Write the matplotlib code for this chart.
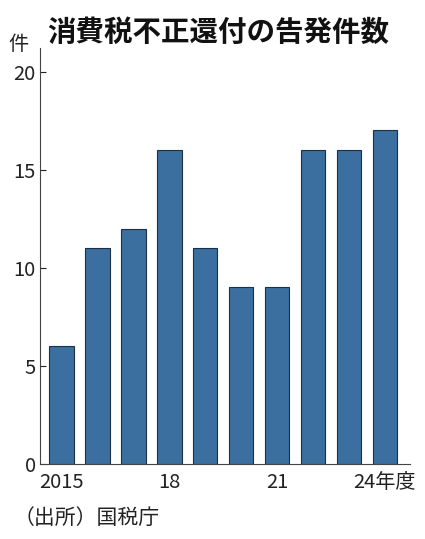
import matplotlib
matplotlib.use('Agg')
import matplotlib.pyplot as plt

plt.rcParams['font.family'] = ['Noto Sans CJK JP', 'DejaVu Sans']

# データ
years = [2015, 2016, 2017, 2018, 2019, 2020, 2021, 2022, 2023, 2024]
counts = [6, 11, 12, 16, 11, 9, 9, 16, 16, 17]
tick_years = [2015, 2018, 2021, 2024]
tick_labels = ['2015', '18', '21', '24年度']
y_ticks = [0, 5, 10, 15, 20]

fig = plt.figure(figsize=(4.25, 5.39), dpi=100)
ax = fig.add_axes([40 / 425, 1 - 464 / 539, 370 / 425, 416 / 539])

ax.bar(years, counts, width=0.68, color='#3a6f9f', edgecolor='#1c2f44', linewidth=0.8)

ax.set_xlim(years[0] - 0.6, years[-1] + 0.7)
ax.set_ylim(0, 21.2)
ax.set_yticks(y_ticks)
ax.set_yticklabels([str(v) for v in y_ticks], fontsize=14.5)
ax.set_xticks(tick_years)
ax.set_xticklabels(tick_labels, fontsize=14.5)
ax.tick_params(axis='y', direction='in', length=4, width=0.8, pad=3, colors='#222222')
ax.tick_params(axis='x', length=0, pad=6, colors='#222222')
for s in ['top', 'right']:
    ax.spines[s].set_visible(False)
for s in ['left', 'bottom']:
    ax.spines[s].set_color('#444444')
    ax.spines[s].set_linewidth(0.8)

fig.text(218 / 425, 1 - 33 / 539, '消費税不正還付の告発件数', ha='center', va='center',
         fontsize=20.5, fontweight='bold', color='#111111')
fig.text(8 / 425, 1 - 45 / 539, '件', ha='left', va='center', fontsize=14.5, color='#222222')
fig.text(14 / 425, 1 - 518 / 539, '（出所）国税庁', ha='left', va='center', fontsize=15,
         color='#222222')

fig.savefig('out.png', dpi=100)
